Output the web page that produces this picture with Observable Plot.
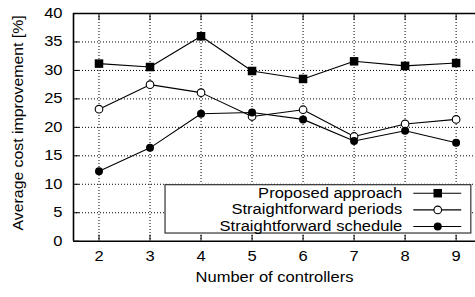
<!DOCTYPE html>
<html>
<head>
<meta charset="utf-8">
<script src="https://cdn.jsdelivr.net/npm/d3@7"></script>
<script src="https://cdn.jsdelivr.net/npm/@observablehq/plot@0.6"></script>
<style>
  html, body { margin: 0; padding: 0; background: white; overflow: hidden; }
</style>
</head>
<body>
<script>
// ---- data ----
const controllers = [2, 3, 4, 5, 6, 7, 8, 9];
const proposed   = [31.2, 30.6, 36.0, 29.9, 28.5, 31.6, 30.8, 31.3];
const periods    = [23.2, 27.5, 26.1, 21.9, 23.1, 18.4, 20.6, 21.4];
const schedule   = [12.3, 16.4, 22.4, 22.6, 21.4, 17.6, 19.4, 17.3];
const yTicks = [0, 5, 10, 15, 20, 25, 30, 35, 40];
const seriesNames = ["Proposed approach", "Straightforward periods", "Straightforward schedule"];
const xLabel = "Number of controllers";
const yLabel = "Average cost improvement [%]";

const rows = controllers.map((x, i) => ({x, proposed: proposed[i], periods: periods[i], schedule: schedule[i]}));

// legend layout (in data units of the chart)
const legendBox = {x1: 3.304, x2: 9.298, y1: 1.35, y2: 9.84};
const legendRows = [
  {label: seriesNames[0], y: 8.43, kind: "square"},
  {label: seriesNames[1], y: 5.50, kind: "open"},
  {label: seriesNames[2], y: 2.58, kind: "filled"}
];
const legendTextX = 7.945, legendLineX1 = 8.17, legendLineX2 = 9.11, legendMarkX = 8.64;
const xMin = 1.5, xMax = 9.38;

const lineStyle = {stroke: "black", strokeWidth: 1.1};
const grid = {stroke: "black", strokeOpacity: 1, strokeWidth: 1, strokeDasharray: "1,2"};
const border = {stroke: "black", strokeWidth: 1.6};

const plot = Plot.plot({
  width: 475,
  height: 297,
  marginLeft: 73,
  marginRight: 0,
  marginTop: 13,
  marginBottom: 56.3,
  x: {domain: [xMin, xMax]},
  y: {domain: [0, 40]},
  style: {fontFamily: "'Liberation Sans', Arial, sans-serif", fontSize: "14px", color: "black", background: "white"},
  marks: [
    Plot.gridX(controllers, grid),
    Plot.gridY(yTicks.slice(1, -1), grid),
    Plot.axisY(yTicks, {anchor: "left", tickSize: -6, tickPadding: 17, label: null, strokeWidth: 1}),
    Plot.axisX(controllers, {anchor: "bottom", tickSize: -6, tickPadding: 16, label: null}),
    Plot.axisX(controllers, {anchor: "top", tickSize: -6, tickFormat: () => "", label: null}),
    Plot.line(rows, {x: "x", y: "proposed", ...lineStyle}),
    Plot.dot(rows, {x: "x", y: "proposed", symbol: "square", r: 4.8, fill: "black"}),
    Plot.line(rows, {x: "x", y: "periods", ...lineStyle}),
    Plot.dot(rows, {x: "x", y: "periods", r: 3.8, fill: "white", stroke: "black", strokeWidth: 1.1}),
    Plot.line(rows, {x: "x", y: "schedule", ...lineStyle}),
    Plot.dot(rows, {x: "x", y: "schedule", r: 4, fill: "black"}),
    // legend
    Plot.rect([legendBox], {x1: "x1", x2: "x2", y1: "y1", y2: "y2", fill: "white", stroke: "#333", strokeWidth: 1.2}),
    Plot.ruleY(legendRows, {y: "y", x1: legendLineX1, x2: legendLineX2, ...lineStyle}),
    Plot.dot(legendRows.filter(d => d.kind === "square"), {x: legendMarkX, y: "y", symbol: "square", r: 4.8, fill: "black"}),
    Plot.dot(legendRows.filter(d => d.kind === "open"), {x: legendMarkX, y: "y", r: 3.8, fill: "white", stroke: "black", strokeWidth: 1.1}),
    Plot.dot(legendRows.filter(d => d.kind === "filled"), {x: legendMarkX, y: "y", r: 4, fill: "black"}),
    Plot.text(legendRows, {x: legendTextX, y: "y", text: "label", textAnchor: "end", fill: "black"}),
    // plot border (left, top, bottom; right edge lies outside the picture)
    Plot.ruleX([xMin], {...border}),
    Plot.ruleY([0, 40], {...border}),
    Plot.text([xLabel], {frameAnchor: "bottom", dy: 41, fill: "black"}),
    Plot.text([yLabel], {frameAnchor: "left", dx: -55, dy: -4.5, rotate: -90, fill: "black"})
  ]
});
document.body.append(plot);
plot.querySelectorAll("text").forEach(t => {
  const L = t.getComputedTextLength();
  if (L <= 0) return;
  const isY = t.textContent === yLabel;
  const k = isY ? 1.13 : 1.18;
  const newL = L * k;
  if (isY) {
    t.style.textAnchor = "start";
    t.setAttribute("x", (-newL / 2).toFixed(2));
  }
  t.setAttribute("textLength", newL.toFixed(2));
  t.setAttribute("lengthAdjust", "spacingAndGlyphs");
});
</script>
</body>
</html>
